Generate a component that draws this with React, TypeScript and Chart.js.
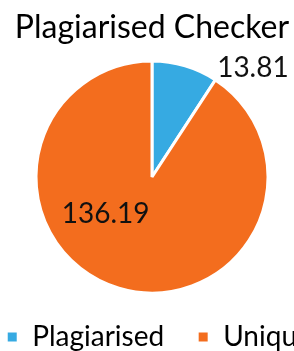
import React, { useEffect, useRef } from "react";
import { Chart, registerables } from "chart.js";

Chart.register(...registerables);

const categories = ["Plagiarised", "Unique"];
const values = [13.81, 136.19];
const valueLabels = ["13.81", "136.19"];
const colors = ["#36AAE2", "#F36D1E"];
// label anchor offsets relative to pie centre, in units of the outer radius
const labelOffsetX = [0.87, -0.4];
const labelOffsetY = [-0.94, 0.32];

const FONT = "Lato, 'Open Sans', sans-serif";

const valueLabelPlugin = {
  id: "valueLabels",
  afterLayout(chart: any) {
    // nudge the legend row slightly to the right, as in the reference
    if (chart.legend) {
      chart.legend.left += 7;
      chart.legend.right += 7;
    }
  },
  afterDatasetsDraw(chart: any) {
    const ctx = chart.ctx;
    const meta = chart.getDatasetMeta(0);
    ctx.save();
    ctx.font = `28px ${FONT}`;
    ctx.fillStyle = "#111111";
    ctx.textAlign = "center";
    ctx.textBaseline = "middle";
    meta.data.forEach((arc: any, i: number) => {
      const p = arc.getProps(["x", "y", "outerRadius"], true);
      const tx = p.x + labelOffsetX[i] * p.outerRadius;
      const ty = p.y + labelOffsetY[i] * p.outerRadius;
      ctx.fillText(valueLabels[i], tx, ty);
    });
    ctx.restore();
  },
};

export default function App() {
  const ref = useRef<HTMLCanvasElement | null>(null);
  useEffect(() => {
    if (!ref.current) return;
    const chart = new Chart(ref.current, {
      type: "pie",
      data: {
        labels: categories,
        datasets: [
          {
            data: values,
            backgroundColor: colors,
            borderColor: "#ffffff",
            borderWidth: 3,
            radius: 116,
          },
        ],
      },
      options: {
        responsive: true,
        maintainAspectRatio: false,
        animation: false,
        layout: { padding: 0 },
        plugins: {
          title: {
            display: true,
            text: "Plagiarised Checker",
            color: "#000000",
            font: { family: FONT, size: 32, weight: "normal", lineHeight: 1.2 },
            padding: { top: 8, bottom: 17.6 },
          },
          legend: {
            display: true,
            position: "bottom",
            labels: {
              color: "#000000",
              font: { family: FONT, size: 28 },
              boxWidth: 12,
              boxHeight: 12,
              padding: 33,
            },
          },
          tooltip: { enabled: false },
        },
      },
      plugins: [valueLabelPlugin],
    });
    return () => chart.destroy();
  }, []);
  return (
    <div
      style={{
        position: "fixed",
        left: 0,
        top: 0,
        width: 294,
        height: 351,
        overflow: "hidden",
        background: "#ffffff",
      }}
    >
      <div style={{ position: "absolute", left: -48, top: 0, width: 400, height: 361 }}>
        <canvas ref={ref} />
      </div>
    </div>
  );
}
